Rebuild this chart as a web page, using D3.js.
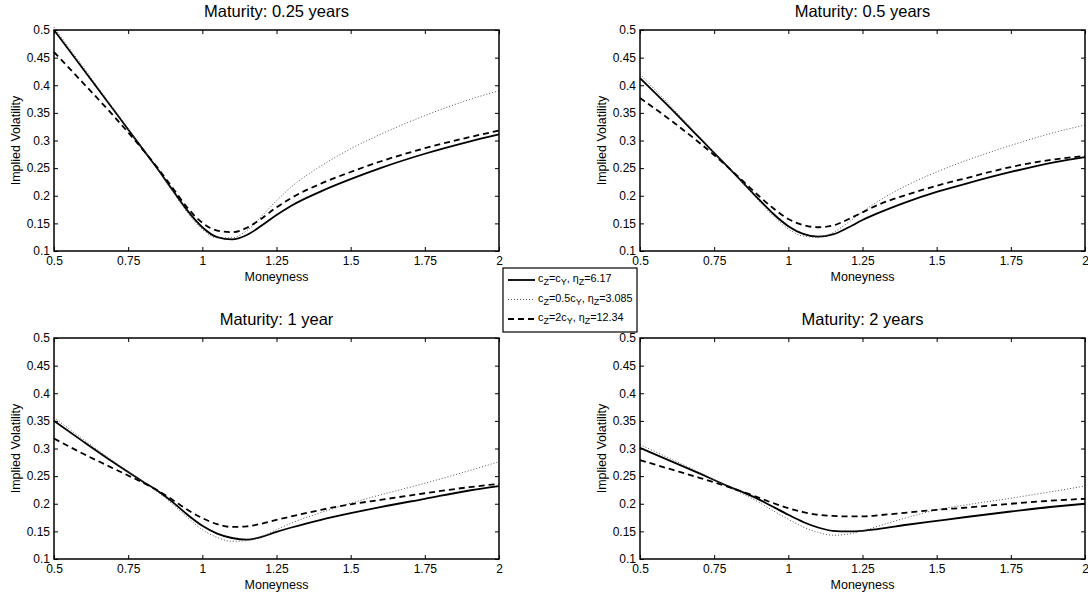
<!DOCTYPE html>
<html lang="en">
<head>
<meta charset="UTF-8">
<title>Implied Volatility Smiles</title>
<script src="https://d3js.org/d3.v7.min.js"></script>
<style>
    body { margin: 0; padding: 0; background: #fff; }
    svg { display: block; font-family: "Liberation Sans", Arial, Helvetica, sans-serif; }
    .tick text { font-size: 12px; fill: #000; }
    .tick line { stroke: #000; stroke-width: 1; }
    .title { font-size: 16.5px; }
    .label { font-size: 12.5px; }
    .legend text { font-size: 10.8px; }
</style>
</head>
<body>
<svg id="chart" width="1088" height="594"></svg>
<script>
    // moneyness grid shared by every curve
    const moneyness = [0.5, 0.6, 0.7, 0.8, 0.85, 0.9, 0.95, 1.0, 1.05, 1.1, 1.15, 1.2, 1.25, 1.3, 1.4, 1.5, 1.6, 1.75, 1.9, 2.0];

    const titles = ["Maturity: 0.25 years", "Maturity: 0.5 years", "Maturity: 1 year", "Maturity: 2 years"];
    const xTicks = [0.5, 0.75, 1, 1.25, 1.5, 1.75, 2];
    const yTicks = [0.1, 0.15, 0.2, 0.25, 0.3, 0.35, 0.4, 0.45, 0.5];

    // 0.25 years
    const solid025  = [0.500, 0.428, 0.356, 0.284, 0.248, 0.210, 0.173, 0.143, 0.125, 0.121, 0.129, 0.146, 0.165, 0.182, 0.208, 0.230, 0.250, 0.276, 0.298, 0.311];
    const dotted025 = [0.505, 0.432, 0.358, 0.284, 0.247, 0.208, 0.169, 0.139, 0.124, 0.124, 0.137, 0.163, 0.191, 0.216, 0.254, 0.285, 0.311, 0.345, 0.374, 0.390];
    const dashed025 = [0.460, 0.403, 0.345, 0.283, 0.250, 0.214, 0.178, 0.151, 0.137, 0.134, 0.142, 0.159, 0.179, 0.196, 0.222, 0.243, 0.262, 0.286, 0.306, 0.318];

    // 0.5 years
    const solid05  = [0.413, 0.360, 0.305, 0.250, 0.222, 0.194, 0.167, 0.145, 0.131, 0.126, 0.130, 0.142, 0.156, 0.168, 0.189, 0.207, 0.222, 0.243, 0.261, 0.270];
    const dotted05 = [0.420, 0.364, 0.307, 0.250, 0.221, 0.191, 0.163, 0.140, 0.127, 0.125, 0.133, 0.151, 0.171, 0.189, 0.219, 0.243, 0.264, 0.291, 0.315, 0.328];
    const dashed05 = [0.377, 0.338, 0.296, 0.250, 0.225, 0.200, 0.177, 0.158, 0.147, 0.143, 0.146, 0.157, 0.170, 0.183, 0.202, 0.218, 0.232, 0.252, 0.266, 0.272];

    // 1 year
    const solid1  = [0.350, 0.312, 0.275, 0.240, 0.223, 0.203, 0.180, 0.160, 0.146, 0.138, 0.135, 0.140, 0.149, 0.157, 0.171, 0.183, 0.194, 0.209, 0.224, 0.232];
    const dotted1 = [0.356, 0.316, 0.277, 0.240, 0.221, 0.199, 0.175, 0.153, 0.139, 0.132, 0.133, 0.141, 0.153, 0.165, 0.184, 0.201, 0.216, 0.237, 0.260, 0.276];
    const dashed1 = [0.318, 0.290, 0.264, 0.238, 0.224, 0.207, 0.189, 0.174, 0.163, 0.158, 0.159, 0.164, 0.171, 0.177, 0.189, 0.199, 0.207, 0.219, 0.230, 0.236];

    // 2 years
    const solid2  = [0.301, 0.278, 0.255, 0.231, 0.220, 0.208, 0.194, 0.180, 0.167, 0.157, 0.151, 0.150, 0.151, 0.154, 0.162, 0.169, 0.176, 0.186, 0.195, 0.200];
    const dotted2 = [0.307, 0.282, 0.257, 0.230, 0.217, 0.203, 0.187, 0.172, 0.158, 0.148, 0.143, 0.145, 0.151, 0.159, 0.175, 0.189, 0.198, 0.210, 0.223, 0.232];
    const dashed2 = [0.279, 0.263, 0.247, 0.230, 0.221, 0.211, 0.201, 0.192, 0.185, 0.180, 0.178, 0.177, 0.177, 0.179, 0.184, 0.189, 0.193, 0.200, 0.206, 0.209];

    const panelSeries = [
        [solid025, dotted025, dashed025],
        [solid05, dotted05, dashed05],
        [solid1, dotted1, dashed1],
        [solid2, dotted2, dashed2]
    ];

    // line styles: solid, dotted, dashed
    const styles = [
        { stroke: "#000", width: 1.8, dash: null },
        { stroke: "#555", width: 1, dash: "1,2" },
        { stroke: "#000", width: 1.8, dash: "6,4" }
    ];

    const svg = d3.select("#chart");
    const pw = 445, ph = 221;
    const origins = [[54, 30], [640, 30], [54, 338], [640, 338]];

    const fmt = d => String(d);

    panelSeries.forEach((series, p) => {
        const [ox, oy] = origins[p];
        const g = svg.append("g").attr("transform", `translate(${ox},${oy})`);

        const x = d3.scaleLinear().domain([0.5, 2]).range([0, pw]);
        const y = d3.scaleLinear().domain([0.1, 0.5]).range([ph, 0]);

        const axes = [
            g.append("g").attr("transform", `translate(0,${ph})`)
                .call(d3.axisBottom(x).tickValues(xTicks).tickFormat(fmt).tickSizeInner(-4).tickSizeOuter(0).tickPadding(5)),
            g.append("g")
                .call(d3.axisTop(x).tickValues(xTicks).tickFormat("").tickSizeInner(-4).tickSizeOuter(0)),
            g.append("g")
                .call(d3.axisLeft(y).tickValues(yTicks).tickFormat(fmt).tickSizeInner(-4).tickSizeOuter(0).tickPadding(4)),
            g.append("g").attr("transform", `translate(${pw},0)`)
                .call(d3.axisRight(y).tickValues(yTicks).tickFormat("").tickSizeInner(-4).tickSizeOuter(0))
        ];
        axes.forEach(a => a.select(".domain").remove());

        const line = d3.line()
            .x((d, i) => x(moneyness[i]))
            .y(d => y(d))
            .curve(d3.curveMonotoneX);

        series.forEach((vals, s) => {
            g.append("path")
                .attr("d", line(vals))
                .attr("fill", "none")
                .attr("stroke", styles[s].stroke)
                .attr("stroke-width", styles[s].width)
                .attr("stroke-dasharray", styles[s].dash);
        });

        g.append("rect")
            .attr("width", pw).attr("height", ph)
            .attr("fill", "none").attr("stroke", "#000").attr("stroke-width", 1.5);

        g.append("text").attr("class", "title")
            .attr("x", pw / 2).attr("y", -13)
            .attr("text-anchor", "middle").text(titles[p]);

        g.append("text").attr("class", "label")
            .attr("x", pw / 2).attr("y", ph + 30)
            .attr("text-anchor", "middle").text("Moneyness");

        g.append("text").attr("class", "label")
            .attr("transform", `translate(-34,${ph / 2}) rotate(-90)`)
            .attr("text-anchor", "middle").text("Implied Volatility");
    });

    // legend
    const legendLabels = [
        [["c", 0], ["Z", 1], ["=c", 0], ["Y", 1], [", η", 0], ["Z", 1], ["=6.17", 0]],
        [["c", 0], ["Z", 1], ["=0.5c", 0], ["Y", 1], [", η", 0], ["Z", 1], ["=3.085", 0]],
        [["c", 0], ["Z", 1], ["=2c", 0], ["Y", 1], [", η", 0], ["Z", 1], ["=12.34", 0]]
    ];

    const legend = svg.append("g").attr("class", "legend").attr("transform", "translate(503,268)");
    legend.append("rect")
        .attr("width", 134).attr("height", 64)
        .attr("fill", "#fff").attr("stroke", "#000").attr("stroke-width", 1.2);

    legendLabels.forEach((parts, i) => {
        const ly = 12 + i * 19.5;
        legend.append("line")
            .attr("x1", 5).attr("x2", 32).attr("y1", ly).attr("y2", ly)
            .attr("stroke", styles[i].stroke)
            .attr("stroke-width", styles[i].width)
            .attr("stroke-dasharray", styles[i].dash);
        const t = legend.append("text").attr("x", 35).attr("y", ly + 2);
        parts.forEach(([txt, sub]) => {
            t.append("tspan")
                .attr("baseline-shift", sub ? "-35%" : null)
                .style("font-size", sub ? "9px" : null)
                .text(txt);
        });
    });
</script>
</body>
</html>
